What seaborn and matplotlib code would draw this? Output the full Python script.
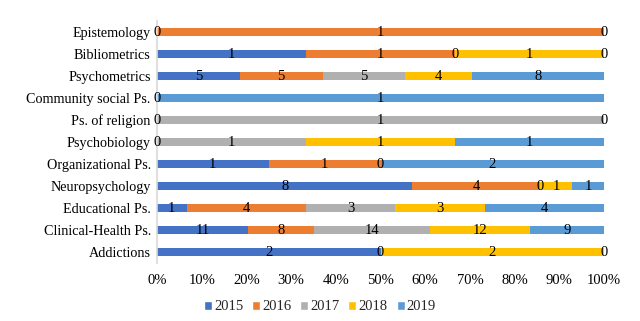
import numpy as np
import pandas as pd
import matplotlib
matplotlib.use("Agg")
import matplotlib.pyplot as plt
import seaborn as sns
from matplotlib.patches import Patch

categories = ["Epistemology", "Bibliometrics", "Psychometrics", "Community social Ps.",
              "Ps. of religion", "Psychobiology", "Organizational Ps.", "Neuropsychology",
              "Educational Ps.", "Clinical-Health Ps.", "Addictions"]
years = ["2015", "2016", "2017", "2018", "2019"]
nan = np.nan
v2015 = [0, 1, 5, 0, 0, 0, 1, 8, 1, 11, 2]
v2016 = [1, 1, 5, nan, nan, nan, 1, 4, 4, 8, 0]
v2017 = [nan, 0, 5, nan, 1, 1, 0, 0, 3, 14, nan]
v2018 = [0, 1, 4, nan, 0, 1, nan, 1, 3, 12, 2]
v2019 = [nan, 0, 8, 1, nan, 1, 2, 1, 4, 9, 0]
colors = ["#4472C4", "#ED7D31", "#B0B0B0", "#FFC000", "#5B9BD5"]

sns.set_theme(style="white")
plt.rcParams["font.family"] = ["Liberation Serif", "DejaVu Serif"]

vals = np.array([v2015, v2016, v2017, v2018, v2019], dtype=float)
filled = np.nan_to_num(vals)
totals = filled.sum(axis=0)
pct = filled / totals * 100
cum = np.cumsum(pct, axis=0)
start = cum - pct

fig = plt.figure(figsize=(6.4, 3.21), dpi=100)
ax = fig.add_axes([157/640, 1-263/321, (604-157)/640, (263-21)/321])

for i in range(len(years) - 1, -1, -1):
    df = pd.DataFrame({"cat": categories, "val": cum[i]})
    sns.barplot(data=df, y="cat", x="val", order=categories, color=colors[i],
                width=0.40, orient="h", ax=ax, saturation=1, linewidth=0)

for i in range(len(years)):
    for j, c in enumerate(categories):
        if np.isnan(vals[i, j]):
            continue
        xc = start[i, j] + pct[i, j] / 2
        ax.text(xc, j + 0.03, f"{int(vals[i, j])}", ha="center", va="center",
                fontsize=10.5, color="#000000")

ax.set_xlim(0, 100)
ax.set_ylim(len(categories) - 0.5, -0.5)
ax.set_xticks(np.arange(0, 101, 10))
ax.set_xticklabels([f"{t}%" for t in range(0, 101, 10)])
ax.set_xlabel("")
ax.set_ylabel("")
ax.tick_params(axis="both", length=0, colors="#000000")
ax.tick_params(axis="x", pad=8, labelsize=10.5)
ax.tick_params(axis="y", pad=4.5, labelsize=10.2)
for s in ["top", "right", "bottom"]:
    ax.spines[s].set_visible(False)
ax.spines["left"].set_color("#D9D9D9")
ax.spines["left"].set_linewidth(1.2)

handles = [Patch(facecolor=colors[i], label=years[i]) for i in range(len(years))]
fig.legend(handles=handles, loc="center", bbox_to_anchor=(0.5, 1-307/321), ncol=5,
           frameon=False, fontsize=10.5, handlelength=0.55, handleheight=0.55,
           handletextpad=0.15, columnspacing=0.6)

fig.savefig("out.png", dpi=100)
